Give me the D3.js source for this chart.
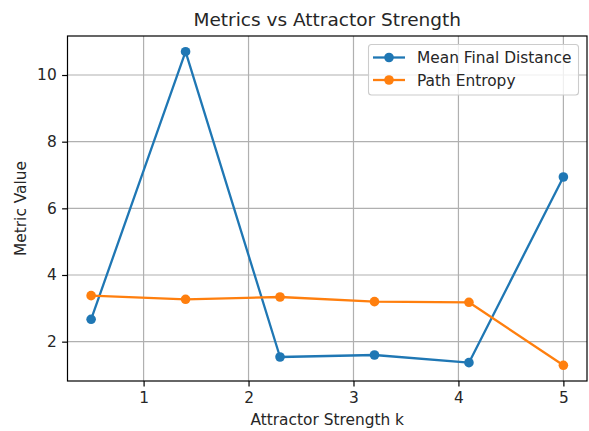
<!DOCTYPE html>
<html><head><meta charset="utf-8">
<script src="https://cdn.jsdelivr.net/npm/d3@7"></script>
<style>body{margin:0;background:#fff}svg{display:block;font-family:"DejaVu Sans",sans-serif}</style>
</head><body>
<script>
const kValues = [0.5, 1.4, 2.3, 3.2, 4.1, 5.0];
const meanFinalDistance = [2.67, 10.70, 1.54, 1.60, 1.37, 6.94];
const pathEntropy = [3.38, 3.27, 3.34, 3.20, 3.18, 1.29];
const xTicks = [1, 2, 3, 4, 5];
const yTicks = [2, 4, 6, 8, 10];
const seriesNames = ["Mean Final Distance", "Path Entropy"];
const colors = ["#1f77b4", "#ff7f0e"];

const W = 589, H = 431;
const L = 67.5, R = 587, T = 36, B = 381;
const FS = 15.4;
const svg = d3.select("body").append("svg").attr("width", W).attr("height", H);

const allY = meanFinalDistance.concat(pathEntropy);
const ymin = d3.min(allY), ymax = d3.max(allY);
const ym = (ymax - ymin) * 0.05;
const xmin = d3.min(kValues), xmax = d3.max(kValues);
const xm = (xmax - xmin) * 0.05;
const x = d3.scaleLinear().domain([xmin - xm, xmax + xm]).range([L, R]);
const y = d3.scaleLinear().domain([ymin - ym, ymax + ym]).range([B, T]);

// grid
const g = svg.append("g");
g.selectAll(".gx").data(xTicks).enter().append("line")
  .attr("x1", d => x(d)).attr("x2", d => x(d)).attr("y1", T).attr("y2", B)
  .attr("stroke", "#b0b0b0").attr("stroke-width", 1.2);
g.selectAll(".gy").data(yTicks).enter().append("line")
  .attr("y1", d => y(d)).attr("y2", d => y(d)).attr("x1", L).attr("x2", R)
  .attr("stroke", "#b0b0b0").attr("stroke-width", 1.2);

// axes
const xa = d3.axisBottom(x).tickValues(xTicks).tickSize(5.4).tickPadding(5.4).tickFormat(d3.format("d"));
const ya = d3.axisLeft(y).tickValues(yTicks).tickSize(5.4).tickPadding(5.4).tickFormat(d3.format("d"));
const gx = svg.append("g").attr("transform", `translate(0,${B})`).call(xa);
const gy = svg.append("g").attr("transform", `translate(${L},0)`).call(ya);
[gx, gy].forEach(a => {
  a.select(".domain").remove();
  a.selectAll("line").attr("stroke", "#000").attr("stroke-width", 1.2);
  a.selectAll("text").attr("font-size", FS).attr("fill", "#262626").attr("font-family", "DejaVu Sans");
});

// lines
const series = [meanFinalDistance, pathEntropy];
const line = d3.line().x((d, i) => x(kValues[i])).y(d => y(d));
series.forEach((s, si) => {
  svg.append("path").datum(s).attr("d", line).attr("fill", "none")
    .attr("stroke", colors[si]).attr("stroke-width", 2.3).attr("stroke-linejoin", "round");
  svg.selectAll(".m" + si).data(s).enter().append("circle")
    .attr("cx", (d, i) => x(kValues[i])).attr("cy", d => y(d)).attr("r", 4.8).attr("fill", colors[si]);
});

// frame
svg.append("rect").attr("x", L).attr("y", T).attr("width", R - L).attr("height", B - T)
  .attr("fill", "none").attr("stroke", "#000").attr("stroke-width", 1.2);

// title and labels
svg.append("text").attr("x", (L + R) / 2).attr("y", 26).attr("text-anchor", "middle")
  .attr("font-size", 18.5).attr("fill", "#262626").text("Metrics vs Attractor Strength");
svg.append("text").attr("x", (L + R) / 2).attr("y", 425).attr("text-anchor", "middle")
  .attr("font-size", FS).attr("fill", "#262626").text("Attractor Strength k");
svg.append("text").attr("transform", `translate(26,${(T + B) / 2}) rotate(-90)`).attr("text-anchor", "middle")
  .attr("font-size", FS).attr("fill", "#262626").text("Metric Value");

// legend
const lg = svg.append("g");
lg.append("rect").attr("x", 368.5).attr("y", 44.5).attr("width", 210).attr("height", 50.5).attr("rx", 3)
  .attr("fill", "#fff").attr("fill-opacity", 0.8).attr("stroke", "#cccccc").attr("stroke-width", 1.1);
seriesNames.forEach((n, i) => {
  const cy = 57.5 + i * 22.5;
  lg.append("line").attr("x1", 373).attr("x2", 405).attr("y1", cy).attr("y2", cy)
    .attr("stroke", colors[i]).attr("stroke-width", 2.3);
  lg.append("circle").attr("cx", 389).attr("cy", cy).attr("r", 4.8).attr("fill", colors[i]);
  lg.append("text").attr("x", 417).attr("y", cy + 5.6).attr("font-size", FS).attr("fill", "#262626").text(n);
});
</script>
</body></html>
